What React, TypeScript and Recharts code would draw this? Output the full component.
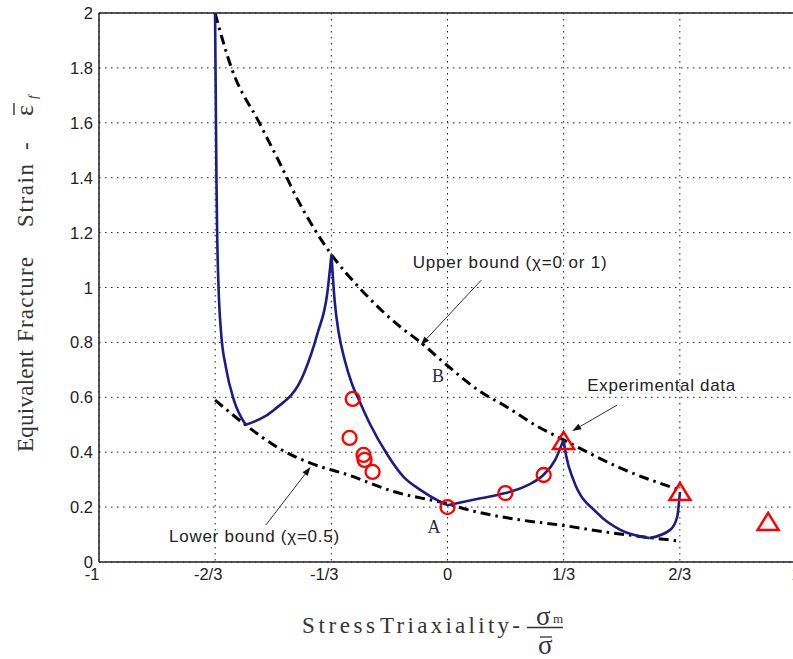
import React from "react";
import {
  ComposedChart,
  Line,
  Scatter,
  XAxis,
  YAxis,
  CartesianGrid,
  ReferenceLine,
  ReferenceDot,
} from "recharts";

// axis ticks
const xTicks = [-1, -2 / 3, -1 / 3, 0, 1 / 3, 2 / 3, 1];
const xTickLabels = ["-1", "-2/3", "-1/3", "0", "1/3", "2/3", "1"];
const yTicks = [0, 0.2, 0.4, 0.6, 0.8, 1, 1.2, 1.4, 1.6, 1.8, 2];
const yTickLabels = ["0", "0.2", "0.4", "0.6", "0.8", "1", "1.2", "1.4", "1.6", "1.8", "2"];

// bounds (dash-dot)
const upperBound = [
  { x: -0.667, y: 2.0 },
  { x: -0.62, y: 1.8 },
  { x: -0.54, y: 1.6 },
  { x: -0.48, y: 1.45 },
  { x: -0.43, y: 1.32 },
  { x: -0.333, y: 1.12 },
  { x: -0.25, y: 0.995 },
  { x: -0.135, y: 0.856 },
  { x: -0.077, y: 0.8 },
  { x: 0, y: 0.715 },
  { x: 0.095, y: 0.62 },
  { x: 0.17, y: 0.565 },
  { x: 0.25, y: 0.5 },
  { x: 0.333, y: 0.445 },
  { x: 0.5, y: 0.34 },
  { x: 0.667, y: 0.262 },
];

const lowerBound = [
  { x: -0.667, y: 0.59 },
  { x: -0.58, y: 0.5 },
  { x: -0.478, y: 0.41 },
  { x: -0.393, y: 0.36 },
  { x: -0.287, y: 0.318 },
  { x: -0.15, y: 0.255 },
  { x: -0.011, y: 0.215 },
  { x: 0.075, y: 0.185 },
  { x: 0.2, y: 0.155 },
  { x: 0.333, y: 0.133 },
  { x: 0.45, y: 0.11 },
  { x: 0.573, y: 0.09 },
  { x: 0.667, y: 0.076 },
];

// model curve, split at its cusps
const branch1 = [
  { x: -0.667, y: 2.0 },
  { x: -0.665, y: 1.7 },
  { x: -0.663, y: 1.4 },
  { x: -0.661, y: 1.2 },
  { x: -0.657, y: 1.0 },
  { x: -0.65, y: 0.84 },
  { x: -0.636, y: 0.71 },
  { x: -0.613, y: 0.59 },
  { x: -0.579, y: 0.5 },
];
const branch2 = [
  { x: -0.579, y: 0.5 },
  { x: -0.498, y: 0.554 },
  { x: -0.412, y: 0.687 },
  { x: -0.373, y: 0.833 },
  { x: -0.345, y: 0.979 },
  { x: -0.333, y: 1.12 },
];
const branch3 = [
  { x: -0.333, y: 1.12 },
  { x: -0.324, y: 0.954 },
  { x: -0.312, y: 0.834 },
  { x: -0.295, y: 0.736 },
  { x: -0.275, y: 0.652 },
  { x: -0.249, y: 0.576 },
  { x: -0.221, y: 0.499 },
  { x: -0.172, y: 0.39 },
  { x: -0.126, y: 0.31 },
  { x: -0.077, y: 0.262 },
  { x: -0.02, y: 0.219 },
  { x: 0, y: 0.207 },
];
const branch4 = [
  { x: 0, y: 0.207 },
  { x: 0.095, y: 0.232 },
  { x: 0.166, y: 0.251 },
  { x: 0.23, y: 0.28 },
  { x: 0.275, y: 0.317 },
  { x: 0.309, y: 0.372 },
  { x: 0.333, y: 0.445 },
];
const branch5 = [
  { x: 0.333, y: 0.445 },
  { x: 0.34, y: 0.39 },
  { x: 0.361, y: 0.3 },
  { x: 0.43, y: 0.178 },
  { x: 0.496, y: 0.117 },
  { x: 0.58, y: 0.087 },
];
const branch6 = [
  { x: 0.58, y: 0.087 },
  { x: 0.639, y: 0.117 },
  { x: 0.659, y: 0.164 },
  { x: 0.665, y: 0.226 },
  { x: 0.667, y: 0.255 },
];
const branches = [branch1, branch2, branch3, branch4, branch5, branch6];

// experimental data
const circles = [
  { x: -0.272, y: 0.594 },
  { x: -0.281, y: 0.452 },
  { x: -0.241, y: 0.39 },
  { x: -0.238, y: 0.372 },
  { x: -0.215, y: 0.328 },
  { x: 0, y: 0.2 },
  { x: 0.166, y: 0.251 },
  { x: 0.276, y: 0.317 },
];
const triangles = [
  { x: 0.333, y: 0.441 },
  { x: 0.667, y: 0.255 },
  { x: 0.92, y: 0.146 },
];

const SANS = "Arial, 'Liberation Sans', Helvetica, sans-serif";
const SERIF = "'Liberation Serif', 'Times New Roman', Times, serif";
const BLUE = "#1c1c84";

const XTick = (p: any) => {
  const i = xTicks.findIndex((t) => Math.abs(t - p.payload.value) < 1e-6);
  const label = xTickLabels[i] ?? "";
  const shift = p.payload.value < 0 ? -7 : 0;
  return (
    <text x={p.x + shift} y={p.y + 18} textAnchor="middle" fontFamily={SANS} fontSize={16.5} fill="#222">
      {label}
    </text>
  );
};

const YTick = (p: any) => {
  const i = yTicks.findIndex((t) => Math.abs(t - p.payload.value) < 1e-6);
  return (
    <text x={p.x - 6} y={p.y + 6} textAnchor="end" fontFamily={SANS} fontSize={16.5} fill="#222">
      {yTickLabels[i] ?? ""}
    </text>
  );
};

const Arrow = (p: any) => {
  const { x1, y1, x2, y2 } = p;
  const a = Math.atan2(y2 - y1, x2 - x1);
  const L = 9;
  const W = 3.2;
  const bx = x2 - L * Math.cos(a);
  const by = y2 - L * Math.sin(a);
  const pts = `${x2},${y2} ${bx + W * Math.sin(a)},${by - W * Math.cos(a)} ${bx - W * Math.sin(a)},${by + W * Math.cos(a)}`;
  return (
    <g>
      <line x1={x1} y1={y1} x2={bx} y2={by} stroke="#333" strokeWidth={1} />
      <polygon points={pts} fill="#111" />
    </g>
  );
};

const note =
  (label: string, opts: { len?: number; serif?: boolean; anchor?: string; size?: number; color?: string }) =>
  (p: any) =>
    (
      <text
        x={p.cx}
        y={p.cy}
        textAnchor={opts.anchor ?? "start"}
        fontFamily={opts.serif ? SERIF : SANS}
        fontSize={opts.size ?? 17}
        fill={opts.color ?? "#222"}
        textLength={opts.len}
        lengthAdjust="spacing"
      >
        {label}
      </text>
    );

const CircleMark = (p: any) => (
  <circle cx={p.cx} cy={p.cy} r={7} fill="none" stroke="#ff0000" strokeWidth={2.3} />
);

const TriangleMark = (p: any) => (
  <polygon
    points={`${p.cx},${p.cy - 9} ${p.cx + 10.5},${p.cy + 8} ${p.cx - 10.5},${p.cy + 8}`}
    fill="none"
    stroke="#ff0000"
    strokeWidth={2.5}
  />
);

export default function App() {
  return (
    <div
      style={{
        position: "absolute",
        left: 0,
        top: 0,
        width: 793,
        height: 659,
        overflow: "hidden",
        background: "#fff",
      }}
    >
      <ComposedChart width={800} height={659} margin={{ top: 13, right: 4, bottom: 57, left: 0 }}>
        <CartesianGrid stroke="#222" strokeDasharray="1.5 4.5" strokeWidth={1} />
        <XAxis
          type="number"
          dataKey="x"
          domain={[-1, 1]}
          ticks={xTicks}
          allowDataOverflow
          height={40}
          tickLine={false}
          tickSize={0}
          tickMargin={0}
          axisLine={{ stroke: "#222", strokeWidth: 1.5 }}
          tick={<XTick />}
          interval={0}
        />
        <YAxis
          type="number"
          dataKey="y"
          domain={[0, 2]}
          ticks={yTicks}
          allowDataOverflow
          width={99}
          tickLine={false}
          tickSize={0}
          tickMargin={0}
          axisLine={{ stroke: "#222", strokeWidth: 1.5 }}
          tick={<YTick />}
          interval={0}
        />
        <ReferenceLine y={2} stroke="#222" strokeWidth={1.5} />
        <ReferenceLine x={1} stroke="#222" strokeWidth={1.5} />

        <Line
          data={upperBound}
          dataKey="y"
          type="monotone"
          stroke="#000"
          strokeWidth={3}
          strokeDasharray="10 5 2.5 5"
          dot={false}
          activeDot={false}
          isAnimationActive={false}
        />
        <Line
          data={lowerBound}
          dataKey="y"
          type="monotone"
          stroke="#000"
          strokeWidth={3}
          strokeDasharray="10 5 2.5 5"
          dot={false}
          activeDot={false}
          isAnimationActive={false}
        />
        {branches.map((b, i) => (
          <Line
            key={i}
            data={b}
            dataKey="y"
            type="monotone"
            stroke={BLUE}
            strokeWidth={2.6}
            dot={false}
            activeDot={false}
            isAnimationActive={false}
          />
        ))}
        <Scatter data={circles} dataKey="y" shape={CircleMark} isAnimationActive={false} />
        <Scatter data={triangles} dataKey="y" shape={TriangleMark} isAnimationActive={false} />

        <ReferenceLine segment={[{ x: 0.097, y: 1.027 }, { x: -0.077, y: 0.79 }]} shape={Arrow} />
        <ReferenceLine segment={[{ x: 0.487, y: 0.572 }, { x: 0.358, y: 0.477 }]} shape={Arrow} />
        <ReferenceLine segment={[{ x: -0.521, y: 0.135 }, { x: -0.393, y: 0.346 }]} shape={Arrow} />

        <ReferenceDot x={-0.1} y={1.071} r={0} shape={note("Upper bound (χ=0 or 1)", { len: 194 })} />
        <ReferenceDot x={0.401} y={0.624} r={0} shape={note("Experimental data", { len: 148 })} />
        <ReferenceDot x={-0.799} y={0.074} r={0} shape={note("Lower bound (χ=0.5)", { len: 170 })} />
        <ReferenceDot
          x={-0.027}
          y={0.656}
          r={0}
          shape={note("B", { serif: true, anchor: "middle", size: 18, color: "#2a2a40" })}
        />
        <ReferenceDot
          x={-0.039}
          y={0.105}
          r={0}
          shape={note("A", { serif: true, anchor: "middle", size: 18, color: "#2a2a40" })}
        />
      </ComposedChart>

      <svg
        width={793}
        height={659}
        style={{ position: "absolute", left: 0, top: 0, pointerEvents: "none" }}
      >
        <g transform="translate(33,0) rotate(-90)" fontFamily={SERIF} fill="#333">
          <text x={-452} y={0} fontSize={23} textLength={102} lengthAdjust="spacing">
            Equivalent
          </text>
          <text x={-342} y={0} fontSize={23} textLength={85} lengthAdjust="spacing">
            Fracture
          </text>
          <text x={-227} y={0} fontSize={23} textLength={63} lengthAdjust="spacing">
            Strain
          </text>
          <text x={-150} y={0} fontSize={23}>
            -
          </text>
          <text x={-116} y={0} fontSize={26}>
            ε
          </text>
          <line x1={-115} y1={-19} x2={-103} y2={-19} stroke="#333" strokeWidth={1.4} />
          <text x={-99} y={4} fontSize={13} fontStyle="italic">
            f
          </text>
        </g>
        <g fontFamily={SERIF} fill="#333">
          <text x={302} y={633} fontSize={23} textLength={73} lengthAdjust="spacing">
            Stress
          </text>
          <text x={380} y={633} fontSize={23} textLength={140} lengthAdjust="spacing">
            Triaxiality-
          </text>
          <text x={536} y={625} fontSize={27}>
            σ
          </text>
          <text x={553} y={623} fontSize={13}>
            m
          </text>
          <line x1={527} y1={627.5} x2={563} y2={627.5} stroke="#333" strokeWidth={1.3} />
          <line x1={540} y1={637} x2={552} y2={637} stroke="#333" strokeWidth={1.3} />
          <text x={538} y={654} fontSize={27}>
            σ
          </text>
        </g>
      </svg>
    </div>
  );
}
